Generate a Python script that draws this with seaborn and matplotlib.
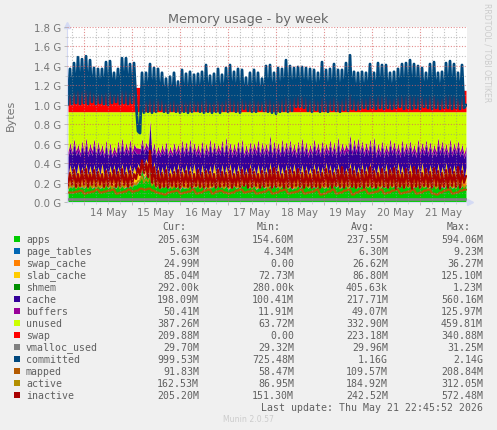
#!/usr/bin/env python3
import matplotlib

matplotlib.use("Agg")
import matplotlib.dates as mdates
import matplotlib.pyplot as plt
import numpy as np
import pandas as pd
import seaborn as sns
from matplotlib.patches import Rectangle
from matplotlib.ticker import FixedLocator, FuncFormatter

W, H = 497, 431

# all series below are in hundredths of a G
# _hi / _lo alternate: one sample each per hour, so one spike every two hours
committed_hi = [
    137, 143, 149, 147, 150, 146, 138, 137, 137, 144, 145, 133, 137, 148, 148, 142, 143, 73, 133, 133,
    142, 138, 137, 133, 127, 129, 133, 124, 136, 132, 134, 131, 132, 134, 141, 130, 132, 137, 131, 138,
    141, 134, 137, 136, 128, 133, 136, 133, 127, 140, 141, 133, 138, 137, 146, 140, 138, 139, 139, 138,
    137, 136, 133, 144, 136, 137, 142, 136, 136, 143, 151, 134, 133, 134, 133, 142, 133, 143, 141, 141,
    133, 134, 137, 142, 143, 146, 142, 140, 138, 133, 142, 144, 133, 134, 143, 145, 142, 133, 141, 100,
]
committed_lo = [
    100, 101, 102, 101, 102, 101, 103, 101, 102, 101, 100, 102, 103, 101, 102, 101, 102, 103, 71, 92,
    93, 92, 93, 95, 93, 92, 94, 93, 92, 93, 92, 93, 94, 93, 92, 93, 92, 93, 92, 94,
    93, 94, 93, 92, 96, 94, 93, 93, 95, 94, 93, 92, 91, 93, 94, 93, 94, 98, 98, 97,
    94, 93, 95, 93, 94, 93, 95, 94, 93, 95, 94, 96, 95, 96, 97, 96, 97, 96, 97, 96,
    97, 96, 97, 98, 96, 97, 96, 97, 96, 98, 97, 96, 97, 96, 97, 97, 96, 97, 96, 97,
]
swap_top = [
    116, 117, 116, 117, 116, 117, 116, 117, 116, 117, 117, 116, 117, 116, 117, 116, 117, 118, 118, 113,
    113, 112, 113, 112, 113, 114, 113, 112, 113, 112, 113, 114, 113, 112, 113, 112, 113, 114, 113, 112,
    113, 112, 113, 114, 113, 112, 113, 114, 113, 112, 113, 114, 115, 114, 113, 114, 115, 114, 115, 114,
    115, 114, 116, 115, 114, 115, 116, 115, 116, 115, 116, 115, 116, 117, 118, 117, 118, 119, 118, 117,
    118, 119, 118, 117, 118, 119, 118, 117, 118, 119, 118, 117, 118, 119, 118, 117, 118, 117, 116, 115,
]
buffers_hi = [
    62, 66, 60, 64, 67, 61, 66, 63, 60, 65, 62, 58, 64, 67, 62, 65, 60, 56, 66, 62,
    85, 62, 58, 60, 63, 58, 62, 60, 65, 63, 66, 62, 60, 64, 61, 66, 63, 60, 65, 68,
    62, 61, 64, 66, 60, 63, 62, 65, 63, 61, 70, 64, 62, 66, 63, 65, 61, 64, 67, 63,
    60, 66, 62, 64, 61, 65, 63, 68, 62, 60, 70, 66, 67, 64, 62, 66, 68, 61, 64, 60,
    66, 63, 61, 65, 62, 64, 60, 66, 62, 65, 63, 60, 67, 64, 61, 66, 62, 64, 60, 58,
]
buffers_lo = [
    52, 52, 53, 51, 52, 52, 53, 51, 52, 50, 49, 50, 51, 52, 52, 53, 52, 56, 55, 54,
    56, 52, 50, 51, 52, 50, 51, 52, 51, 52, 52, 51, 52, 51, 50, 52, 51, 52, 53, 51,
    52, 51, 52, 51, 50, 51, 52, 53, 51, 52, 52, 51, 52, 51, 52, 53, 52, 51, 52, 52,
    51, 52, 53, 51, 52, 53, 52, 51, 52, 53, 54, 53, 54, 53, 52, 53, 52, 51, 52, 51,
    52, 53, 52, 51, 52, 53, 52, 51, 52, 53, 52, 51, 52, 53, 52, 51, 52, 53, 52, 50,
]
cache_hi = [
    56, 60, 54, 58, 60, 55, 60, 57, 54, 59, 56, 52, 58, 60, 56, 59, 54, 50, 60, 56,
    80, 56, 52, 54, 57, 52, 56, 54, 59, 57, 60, 56, 54, 58, 55, 60, 57, 54, 59, 61,
    56, 55, 58, 60, 54, 57, 56, 59, 57, 55, 63, 58, 56, 60, 57, 59, 55, 58, 60, 57,
    54, 60, 56, 58, 55, 59, 57, 61, 56, 54, 63, 60, 60, 58, 56, 60, 61, 55, 58, 54,
    60, 57, 55, 59, 56, 58, 54, 60, 56, 59, 57, 54, 60, 58, 55, 60, 56, 58, 54, 52,
]
cache_lo = [
    47, 48, 48, 47, 48, 47, 48, 47, 48, 46, 45, 46, 47, 48, 48, 48, 47, 50, 50, 50,
    52, 48, 46, 47, 48, 46, 47, 48, 47, 47, 48, 47, 47, 46, 46, 47, 47, 48, 48, 47,
    47, 46, 47, 47, 46, 47, 47, 48, 47, 47, 47, 46, 47, 47, 47, 48, 47, 46, 47, 47,
    46, 47, 48, 47, 47, 48, 47, 46, 47, 48, 49, 48, 49, 48, 47, 48, 47, 46, 47, 46,
    47, 48, 47, 46, 47, 48, 47, 46, 47, 48, 47, 46, 47, 48, 47, 46, 47, 48, 47, 45,
]
slab_hi = [
    39, 38, 40, 37, 40, 38, 39, 37, 40, 36, 38, 39, 37, 40, 38, 39, 37, 40, 38, 45,
    50, 42, 38, 37, 39, 36, 38, 40, 37, 39, 38, 40, 37, 39, 36, 38, 40, 37, 39, 38,
    40, 37, 39, 38, 36, 40, 37, 39, 38, 37, 41, 38, 40, 37, 39, 38, 40, 37, 39, 38,
    36, 40, 38, 37, 41, 39, 37, 40, 38, 36, 41, 39, 37, 40, 38, 41, 37, 39, 38, 40,
    37, 39, 41, 38, 37, 40, 38, 39, 41, 37, 39, 38, 40, 37, 41, 38, 39, 37, 40, 36,
]
slab_lo = [
    27, 28, 27, 28, 27, 28, 27, 26, 28, 27, 26, 28, 27, 28, 27, 28, 28, 30, 34, 38,
    38, 30, 27, 26, 27, 26, 28, 27, 26, 28, 27, 28, 27, 26, 27, 28, 27, 28, 26, 27,
    28, 27, 26, 28, 27, 26, 28, 27, 28, 27, 26, 27, 28, 27, 26, 27, 28, 27, 28, 26,
    28, 27, 28, 26, 27, 28, 27, 26, 28, 27, 28, 27, 26, 28, 27, 28, 26, 27, 28, 27,
    26, 28, 27, 28, 26, 27, 28, 27, 26, 28, 27, 28, 27, 26, 28, 27, 28, 26, 27, 24,
]
apps_hi = [
    16, 17, 18, 16, 17, 18, 16, 17, 16, 18, 17, 16, 18, 17, 16, 17, 18, 20, 34, 28,
    32, 24, 18, 16, 17, 16, 18, 17, 16, 15, 17, 16, 18, 17, 16, 15, 17, 18, 16, 17,
    15, 17, 16, 18, 20, 16, 17, 15, 18, 16, 17, 18, 16, 17, 18, 16, 15, 17, 18, 19,
    17, 16, 18, 17, 16, 18, 19, 17, 16, 18, 17, 19, 16, 18, 17, 18, 16, 18, 17, 16,
    18, 17, 16, 19, 18, 17, 16, 18, 19, 17, 16, 18, 17, 16, 18, 17, 16, 18, 17, 18,
]
apps_lo = [
    14, 15, 14, 15, 14, 15, 14, 15, 14, 15, 14, 15, 14, 15, 14, 15, 16, 18, 26, 24,
    25, 20, 15, 14, 15, 14, 15, 14, 13, 14, 15, 14, 15, 14, 13, 14, 15, 14, 15, 14,
    13, 15, 14, 15, 16, 14, 15, 13, 15, 14, 15, 14, 15, 14, 15, 14, 13, 15, 14, 15,
    14, 15, 14, 15, 14, 15, 14, 15, 14, 15, 14, 15, 14, 15, 14, 15, 14, 15, 14, 15,
    14, 15, 14, 15, 14, 15, 14, 15, 14, 15, 14, 15, 14, 15, 14, 15, 14, 15, 14, 16,
]
inactive_hi = [
    30, 33, 29, 32, 34, 30, 33, 31, 29, 32, 30, 33, 31, 34, 30, 32, 29, 35, 43, 40,
    53, 36, 32, 30, 33, 29, 31, 33, 30, 32, 31, 29, 33, 30, 32, 31, 29, 33, 31, 30,
    32, 29, 31, 33, 30, 34, 31, 29, 32, 30, 33, 35, 31, 29, 32, 33, 31, 34, 30, 32,
    29, 33, 31, 30, 34, 32, 30, 33, 36, 31, 34, 32, 30, 33, 31, 36, 32, 30, 34, 31,
    33, 35, 32, 30, 34, 31, 36, 33, 30, 34, 31, 35, 32, 30, 33, 34, 31, 36, 32, 27,
]
inactive_lo = [
    17, 18, 16, 17, 18, 16, 18, 17, 18, 16, 17, 18, 16, 17, 18, 16, 18, 24, 28, 30,
    26, 20, 17, 15, 16, 15, 17, 16, 15, 17, 16, 15, 17, 16, 15, 16, 17, 15, 16, 17,
    16, 15, 17, 16, 17, 15, 16, 17, 15, 16, 17, 15, 16, 17, 15, 16, 15, 17, 16, 15,
    17, 15, 16, 15, 17, 16, 15, 17, 16, 15, 17, 16, 15, 16, 15, 17, 16, 15, 17, 16,
    15, 17, 14, 16, 15, 17, 14, 16, 15, 17, 16, 15, 17, 14, 16, 15, 17, 16, 15, 20,
]
active_hi = [
    18, 19, 17, 18, 20, 18, 19, 17, 18, 19, 18, 17, 19, 18, 20, 18, 19, 22, 27, 24,
    28, 21, 19, 17, 18, 19, 17, 18, 19, 17, 18, 20, 19, 17, 18, 19, 20, 18, 17, 19,
    18, 20, 17, 19, 23, 18, 19, 17, 20, 18, 19, 22, 18, 19, 17, 20, 18, 19, 21, 18,
    19, 20, 18, 17, 19, 21, 18, 22, 19, 18, 20, 19, 18, 20, 18, 21, 19, 18, 20, 18,
    19, 22, 18, 20, 19, 18, 21, 19, 18, 20, 23, 19, 18, 20, 22, 19, 18, 20, 19, 17,
]
active_lo = [
    14, 15, 14, 15, 15, 14, 15, 14, 15, 14, 15, 14, 15, 14, 15, 15, 16, 18, 22, 20,
    21, 17, 15, 14, 15, 15, 14, 15, 14, 15, 14, 15, 15, 14, 15, 14, 15, 14, 15, 14,
    15, 14, 15, 14, 16, 15, 14, 15, 14, 15, 14, 16, 15, 14, 15, 14, 15, 14, 15, 14,
    15, 14, 15, 14, 15, 14, 15, 16, 14, 15, 14, 15, 14, 15, 14, 15, 14, 15, 14, 15,
    14, 15, 14, 15, 14, 15, 14, 15, 14, 15, 14, 15, 14, 15, 16, 14, 15, 14, 15, 15,
]
mapped = [
    10, 10, 11, 12, 9, 10, 11, 13, 10, 11, 12, 13, 9, 10, 11, 13, 11, 12, 14, 13,
    14, 12, 10, 9, 8, 10, 11, 12, 9, 10, 11, 13, 9, 10, 12, 13, 9, 11, 12, 10,
    9, 10, 12, 13, 10, 11, 12, 9, 10, 11, 13, 9, 10, 12, 13, 9, 10, 11, 13, 9,
    10, 11, 13, 8, 9, 11, 13, 9, 10, 12, 13, 8, 10, 12, 13, 9, 10, 11, 13, 9,
    10, 12, 13, 9, 10, 11, 13, 9, 10, 12, 13, 9, 8, 10, 12, 13, 9, 10, 12, 13,
]
# nearly flat ones
page_tables = 0.6
swap_cache = 2.6
shmem = 0.04
unused_top = 93
vmalloc_used = 3.0

names = ["apps", "page_tables", "swap_cache", "slab_cache", "shmem", "cache", "buffers", "unused",
         "swap", "vmalloc_used", "committed", "mapped", "active", "inactive"]
colors = ["#00CC00", "#0066B3", "#FF8000", "#FFCC00", "#008F00", "#330099", "#990099", "#CCFF00",
          "#FF0000", "#808080", "#00487D", "#B35A00", "#B38F00", "#A80000"]
cur = ["205.63M", "5.63M", "24.99M", "85.04M", "292.00k", "198.09M", "50.41M", "387.26M",
       "209.88M", "29.70M", "999.53M", "91.83M", "162.53M", "205.20M"]
mins = ["154.60M", "4.34M", "0.00", "72.73M", "280.00k", "100.41M", "11.91M", "63.72M",
        "0.00", "29.32M", "725.48M", "58.47M", "86.95M", "151.30M"]
avgs = ["237.55M", "6.30M", "26.62M", "86.80M", "405.63k", "217.71M", "49.07M", "332.90M",
        "223.18M", "29.96M", "1.16G", "109.57M", "184.92M", "242.52M"]
maxs = ["594.06M", "9.23M", "36.27M", "125.10M", "1.23M", "560.16M", "125.97M", "459.81M",
        "340.88M", "31.25M", "2.14G", "208.84M", "312.05M", "572.48M"]
col = dict(zip(names, colors))


def _weave(lo, hi):
    return np.column_stack((lo, hi)).ravel() / 100


sns.set_style("white")
plt.rcParams["font.family"] = ["DejaVu Sans"]

times = pd.date_range("2026-05-13 16:00", periods=200, freq="h")
df = pd.DataFrame({
    "time": times,
    "apps": _weave(apps_lo, apps_hi),
    "slab": _weave(slab_lo, slab_hi),
    "cache": _weave(cache_lo, cache_hi),
    "buffers": _weave(buffers_lo, buffers_hi),
    "swap": _weave(swap_top, swap_top),
    "committed": _weave(committed_lo, committed_hi),
    "mapped": _weave(mapped, mapped),
    "active": _weave(active_lo, active_hi),
    "inactive": _weave(inactive_lo, inactive_hi),
})
df["vmalloc_used"] = vmalloc_used / 100
df["unused"] = unused_top / 100
df["pt"] = df["apps"] + page_tables / 100
df["sc"] = df["pt"] + swap_cache / 100

fig = plt.figure(figsize=(W / 100, H / 100), dpi=100, facecolor="#F0F0F0")
ax = fig.add_axes([67 / W, 1 - 203.3 / H, 400 / W, 175.3 / H], facecolor="white")

# areas, bottom up
stack = [
    (0, "apps", "apps"),
    ("apps", "pt", "page_tables"),
    ("pt", "sc", "swap_cache"),
    ("sc", "slab", "slab_cache"),
    ("slab", "cache", "cache"),
    ("cache", "buffers", "buffers"),
    ("buffers", "unused", "unused"),
    ("unused", "swap", "swap"),
]
for lower, upper, name in stack:
    low = 0 if lower == 0 else df[lower]
    ax.fill_between(df["time"], low, df[upper], color=col[name], lw=0, zorder=1)

for name, lw in [("vmalloc_used", 1.9), ("committed", 2.0), ("mapped", 1.6), ("active", 1.0), ("inactive", 1.6)]:
    sns.lineplot(data=df, x="time", y=name, color=col[name], linewidth=lw, estimator=None,
                 legend=False, ax=ax, zorder=2)

ax.set_xlim(pd.Timestamp("2026-05-13 15:30"), pd.Timestamp("2026-05-21 23:30"))
ax.set_ylim(0, 1.8)
ax.set_xlabel("")
ax.set_ylabel("")

ax.yaxis.set_major_locator(FixedLocator(np.arange(0, 1.81, 0.2)))
ax.yaxis.set_minor_locator(FixedLocator(np.arange(0.1, 1.8, 0.2)))
ax.yaxis.set_major_formatter(FuncFormatter(lambda v, _: f"{v:.1f} G"))
ax.xaxis.set_major_locator(mdates.DayLocator())
ax.xaxis.set_minor_locator(mdates.HourLocator(byhour=[6, 12, 18]))
ax.xaxis.set_major_formatter(FuncFormatter(lambda v, _: ""))
ax.xaxis.set_minor_formatter(FuncFormatter(
    lambda v, _: mdates.num2date(v).strftime("%d %b") if mdates.num2date(v).hour == 12 else ""))
ax.tick_params(axis="both", which="major", labelsize=7.3, labelcolor="#757575", length=2, width=0.6,
               color="#b0b0b0", pad=2, left=True, bottom=True)
ax.tick_params(axis="both", which="minor", labelsize=7.3, labelcolor="#757575", length=1.5, width=0.5,
               color="#c8c8c8", pad=2, left=True, bottom=True)

# rrdtool draws the grid over the data
ax.set_axisbelow(False)
ax.grid(True, which="major", color="#D86060", alpha=0.7, lw=0.8, ls=(0, (1, 1.5)))
ax.grid(True, which="minor", color="#909090", alpha=0.55, lw=0.8, ls=(0, (1, 1.5)))
for side in ["top", "right"]:
    ax.spines[side].set_visible(False)
for side in ["left", "bottom"]:
    ax.spines[side].set_color("#D4DAF4")
    ax.spines[side].set_linewidth(0.8)

# little axis arrows
ax.plot([0], [1.012], marker="^", ms=4, color="#D4DAF4", transform=ax.transAxes, clip_on=False)
ax.plot([1.008], [0], marker=">", ms=4, color="#D4DAF4", transform=ax.transAxes, clip_on=False)


def _px(x, y, s, **kw):
    fig.text(x / W, 1 - y / H, s, va="center", **kw)


_px(248.5, 19, "Memory usage - by week", ha="center", fontsize=9.2, color="#666666")
_px(10.5, 115, "Bytes", ha="center", fontsize=8, color="#757575", rotation=90)
_px(487, 53, "RRDTOOL / TOBI OETIKER", ha="center", fontsize=5.6, color="#CCCCCC", rotation=270)
_px(248, 420, "Munin 2.0.57", ha="center", fontsize=5.6, color="#CCCCCC")

mono = dict(family="DejaVu Sans Mono", fontsize=7.1, color="#606060")
for right, head in [(186, "Cur:"), (281, "Min:"), (375, "Avg:"), (471, "Max:")]:
    _px(right, 227.5, head, ha="right", **mono)
for i, name in enumerate(names):
    y = 240 + i * 12
    fig.add_artist(Rectangle((14 / W, 1 - (y + 3) / H), 6 / W, 6 / H, color=col[name], lw=0))
    _px(26, y, name, ha="left", **mono)
    _px(199, y, cur[i], ha="right", **mono)
    _px(294, y, mins[i], ha="right", **mono)
    _px(388, y, avgs[i], ha="right", **mono)
    _px(483, y, maxs[i], ha="right", **mono)
_px(483, 407.7, "Last update: Thu May 21 22:45:52 2026", ha="right", **mono)

fig.savefig("out.png", dpi=100, facecolor=fig.get_facecolor())
